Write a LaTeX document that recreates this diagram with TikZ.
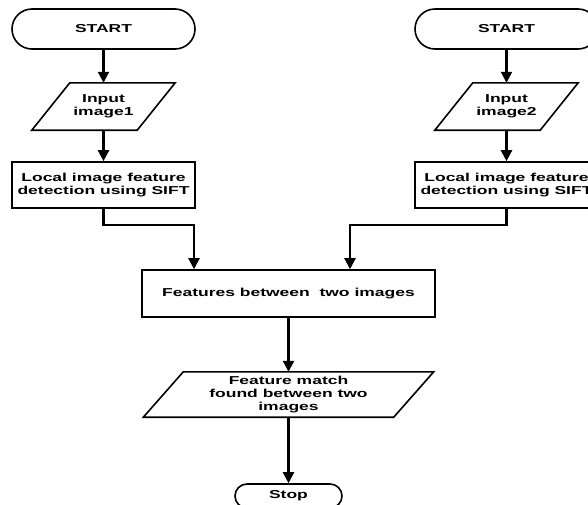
\documentclass[tikz,border=0pt]{standalone}
\usepackage{fontspec}
\setmainfont[FakeStretch=1.52]{Liberation Sans}
\usetikzlibrary{arrows.meta}
\begin{document}
\begin{tikzpicture}[x=1pt,y=-1pt,
  every node/.style={font=\fontsize{11.5}{13}\selectfont\bfseries, align=center, inner sep=0pt},
  term/.style={draw, line width=1.6pt, rounded corners=20pt, minimum width=183pt, minimum height=40pt},
  procbox/.style={draw, line width=1.6pt, minimum width=183pt, minimum height=46pt},
  iobox/.style={minimum height=47pt},
  ioshape/.style={line width=1.6pt, line join=miter},
  arr/.style={line width=2.2pt, -{Triangle[width=11pt,length=11pt]}}]
\useasboundingbox (0,0) rectangle (588,504);
\clip (0,0) rectangle (588,504);
\fill[white] (0,0) rectangle (588,504);

% left column
\node[term] (s1) at (103.5,29) {START};
\node[iobox, minimum width=105pt] (in1) at (103.5,106.5) {Input\\image1};
\draw[ioshape] ([xshift=19pt]in1.north west) -- ([xshift=19pt]in1.north east)
  -- ([xshift=-19pt]in1.south east) -- ([xshift=-19pt]in1.south west) -- cycle;
\node[procbox] (l1) at (103.5,185) {Local image feature\\detection using SIFT};

% right column
\node[term] (s2) at (506.5,29) {START};
\node[iobox, minimum width=105pt] (in2) at (506.5,106.5) {Input\\image2};
\draw[ioshape] ([xshift=19pt]in2.north west) -- ([xshift=19pt]in2.north east)
  -- ([xshift=-19pt]in2.south east) -- ([xshift=-19pt]in2.south west) -- cycle;
\node[procbox] (l2) at (506.5,185) {Local image feature\\detection using SIFT};

% merge
\node[procbox, minimum width=293pt, minimum height=47pt] (f) at (288.5,293.5) {Features between\ \ two images};
\coordinate (fa) at ([xshift=-94.5pt]f.north);
\coordinate (fb) at ([xshift=61.5pt]f.north);

\node[iobox, minimum width=250pt, minimum height=45pt] (m) at (288.5,394.5) {Feature match\\found between two\\images};
\draw[ioshape] ([xshift=20pt]m.north west) -- ([xshift=20pt]m.north east)
  -- ([xshift=-20pt]m.south east) -- ([xshift=-20pt]m.south west) -- cycle;

\node[term, minimum width=107pt, minimum height=24pt, rounded corners=12pt] (st) at (288.5,496) {Stop};

% connectors
\draw[arr] (s1) -- (in1);
\draw[arr] (in1) -- (l1);
\draw[arr] (s2) -- (in2);
\draw[arr] (in2) -- (l2);
\draw[arr] (l1.south) -- ++(0,16) -| (fa);
\draw[arr] (l2.south) -- ++(0,16) -| (fb);
\draw[arr] (f) -- (m);
\draw[arr] (m) -- (st);
\end{tikzpicture}
\end{document}
